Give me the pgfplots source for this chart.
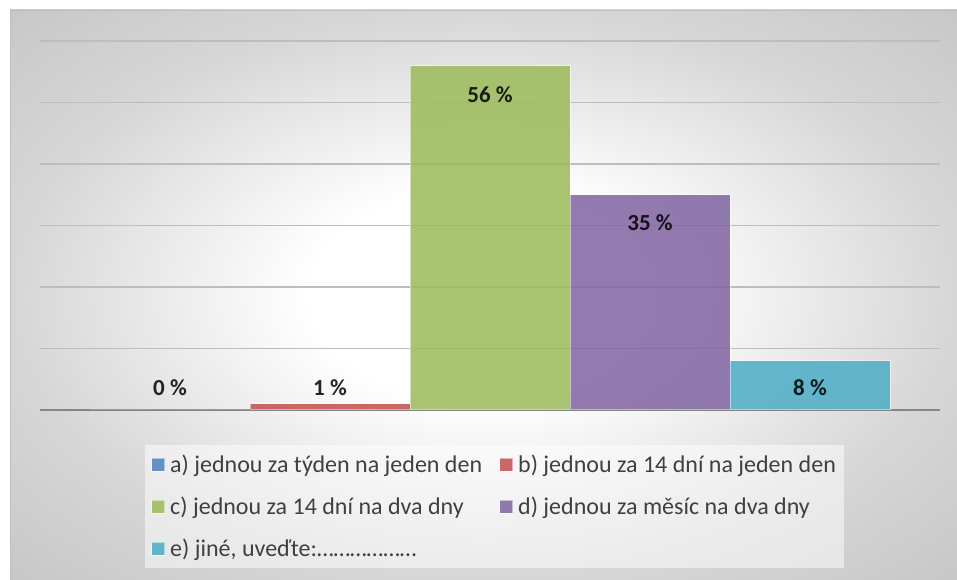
\documentclass[border=0pt]{standalone}
\usepackage{pgfplots}
\pgfplotsset{compat=1.18}
\usepackage{fontspec}
\setmainfont{Carlito}
\definecolor{ca}{HTML}{4F81BD}
\definecolor{cb}{HTML}{C0504D}
\definecolor{cc}{HTML}{9BBB59}
\definecolor{cd}{HTML}{8064A2}
\definecolor{ce}{HTML}{4BACC6}
\definecolor{legtext}{HTML}{404040}
\pgfdeclareradialshading{bgshade}{\pgfpoint{0bp}{0bp}}{color(0bp)=(white); color(13bp)=(white); color(35bp)=(black!16); color(50bp)=(black!22)}
\begin{document}
\begin{tikzpicture}[x=1pt,y=1pt]
\useasboundingbox (0,0) rectangle (957,580);
\fill[black!22] (10,0) rectangle (957,570);
\begin{scope}
\clip (10,0) rectangle (957,570);
\begin{pgfscope}
\pgftransformshift{\pgfpoint{483.5pt}{285pt}}
\pgftransformxscale{13.4}
\pgftransformyscale{8.1}
\pgflowlevelsynccm
\pgftext{\pgfuseshading{bgshade}}
\end{pgfscope}
\end{scope}
\draw[black!25, line width=1pt] (10.5,0) -- (10.5,569.5) -- (957,569.5);
\begin{axis}[
  at={(40pt,170pt)}, anchor=south west,
  scale only axis, width=900pt, height=369pt,
  xmin=-1, xmax=1, ymin=0, ymax=60,
  ybar=0pt, bar width=160pt,
  axis line style={draw=none},
  xtick=\empty,
  ytick={10,20,30,40,50,60}, yticklabels={},
  major tick length=0pt,
  ymajorgrids,
  grid style={color=black!26, line width=1.3pt},
  extra y ticks={0}, extra y tick labels={},
  extra y tick style={grid style={color=black!48, line width=1.6pt}},
  clip=false,
  /pgf/number format/assume math mode=true,
  nodes near coords={\pgfmathprintnumber{\pgfplotspointmeta}~\%},
  every node near coord/.append style={font=\bfseries\fontsize{23}{26}\selectfont, text=black, anchor=center},
  legend columns=2,
  legend cell align=left,
  legend style={at={(0.1167,-0.095)}, anchor=north west, fill=white, fill opacity=0.5, text opacity=1, draw=none,
    font=\fontsize{24}{28}\selectfont, text=legtext,
    inner xsep=6pt, inner ysep=8pt, row sep=19pt,
    /tikz/every even column/.append style={column sep=15pt}},
  legend image code/.code={\fill[#1] (0pt,-6.5pt) rectangle (13pt,6.5pt); \path (16pt,0pt);},
]
\addplot+[fill=ca, fill opacity=0.85, draw=white, draw opacity=0.5, line width=1pt, every node near coord/.append style={yshift=22pt}] coordinates {(0,0)};
\addplot+[fill=cb, fill opacity=0.85, draw=white, draw opacity=0.5, line width=1pt, every node near coord/.append style={yshift=16pt}] coordinates {(0,1)};
\addplot+[fill=cc, fill opacity=0.85, draw=white, draw opacity=0.5, line width=1pt, every node near coord/.append style={yshift=-29pt}] coordinates {(0,56)};
\addplot+[fill=cd, fill opacity=0.85, draw=white, draw opacity=0.5, line width=1pt, every node near coord/.append style={yshift=-28pt}] coordinates {(0,35)};
\addplot+[fill=ce, fill opacity=0.85, draw=white, draw opacity=0.5, line width=1pt, every node near coord/.append style={yshift=-27pt}] coordinates {(0,8)};
\legend{a) jednou za týden na jeden den, b) jednou za 14 dní na jeden den, c) jednou za 14 dní na dva dny, d) jednou za měsíc na dva dny, e) jiné{,} uveďte:………………}
\end{axis}
\end{tikzpicture}
\end{document}
